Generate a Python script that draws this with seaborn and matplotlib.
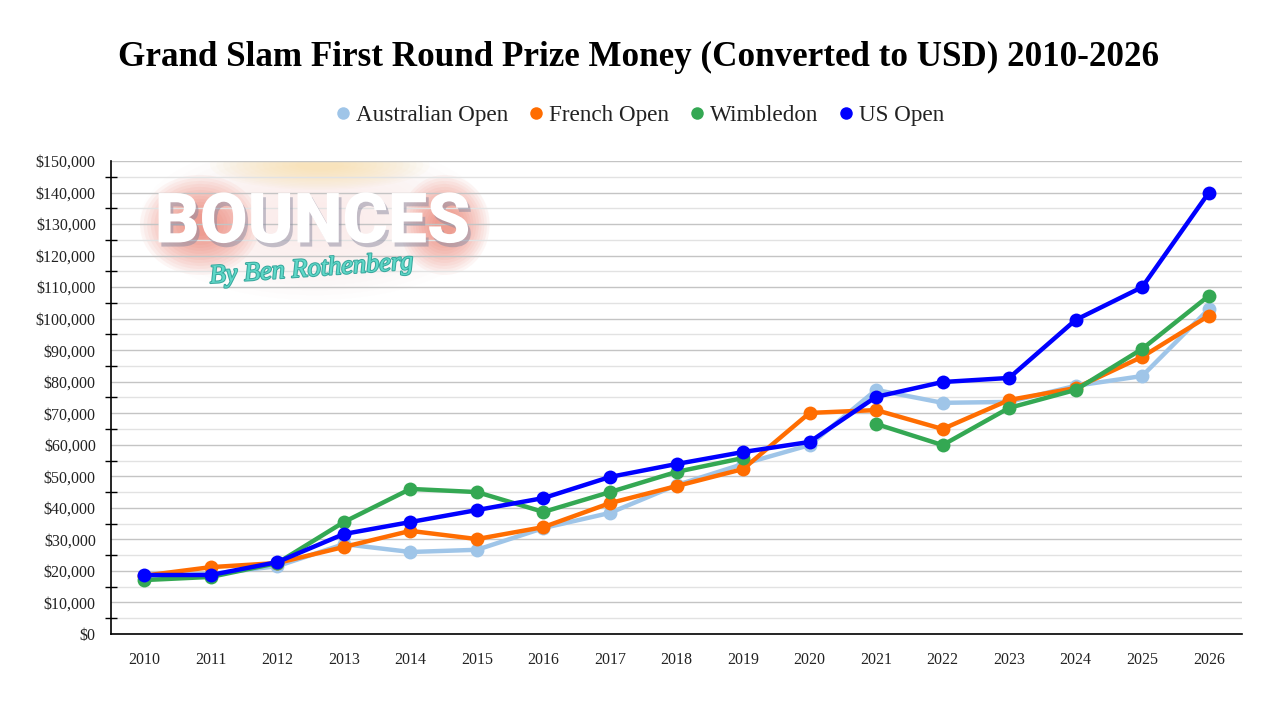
import numpy as np
import pandas as pd
import seaborn as sns
import matplotlib.pyplot as plt
from matplotlib.lines import Line2D
from matplotlib.patches import Ellipse
from matplotlib import patheffects as pe
from matplotlib.ticker import MultipleLocator, FuncFormatter

# chart data
years = list(range(2010, 2027))
australian_open = [18500, 19000, 21500, 28500, 26000, 26700, 33600, 38400, 47200, 53900,
                   59900, 77400, 73300, 73600, 78700, 81800, 103000]
french_open = [18500, 21200, 22500, 27600, 32700, 30100, 33900, 41500, 46900, 52300,
               70100, 71000, 65000, 74200, 78000, 87900, 100900]
wimbledon = [17100, 18100, 22500, 35500, 46000, 45000, 38700, 45000, 51400, 55800,
             np.nan, 66600, 59900, 71700, 77400, 90400, 107200]
us_open = [18700, 18700, 22800, 31700, 35500, 39300, 43100, 49800, 53900, 57700,
           60900, 75200, 79900, 81200, 99600, 110000, 139900]

series = {
    "Australian Open": australian_open,
    "French Open": french_open,
    "Wimbledon": wimbledon,
    "US Open": us_open,
}
palette = {
    "Australian Open": "#9fc5e8",
    "French Open": "#ff6d01",
    "Wimbledon": "#34a853",
    "US Open": "#0000ff",
}

# long table, with a segment id so the 2020 Wimbledon gap stays open
rows = []
for name, vals in series.items():
    seg = 0
    for yr, v in zip(years, vals):
        if np.isnan(v):
            seg += 1
            continue
        rows.append({"year": yr, "prize": v, "event": name, "seg": f"{name}-{seg}"})
df = pd.DataFrame(rows)

sns.set_style("white")
plt.rcParams["font.family"] = ["Liberation Serif", "DejaVu Serif"]

fig = plt.figure(figsize=(12.78, 7.06), dpi=100)
ax = fig.add_axes([0.0869, 0.102, 0.8849, 0.670])


def px(x, y):
    # pixel position -> data coords, only used for the logo watermark
    return 2009.5 + (x - 111) / 66.6, (634 - y) / 3.153 * 1000


# logo watermark behind the lines (soft blobs built from stacked ellipses)
for cx, cy, w, h, c in [(315, 220, 350, 160, "#fbe3e1"),
                        (200, 225, 120, 100, "#e8543e"),
                        (445, 225, 90, 100, "#e8543e"),
                        (320, 165, 220, 50, "#f8dc94")]:
    for k in range(14):
        f = 1 - k * 0.06
        xy = px(cx, cy)
        ax.add_patch(Ellipse(xy, w * f / 66.6, h * f / 3.153 * 1000, color=c,
                             alpha=0.05, lw=0, zorder=0.5))
bx, by = px(313, 224)
ax.text(bx, by, "BOUNCES", ha="center", va="center", fontsize=50,
        fontweight="black", family="Roboto", color="white", zorder=0.6,
        path_effects=[pe.SimplePatchShadow(offset=(2, -3), shadow_rgbFace="#8a8aa0", alpha=0.5),
                      pe.Normal()])
sx, sy = px(312, 270)
ax.text(sx, sy, "By Ben Rothenberg", ha="center", va="center", fontsize=19,
        style="italic", color="#5fd8c8", rotation=4, zorder=0.6,
        path_effects=[pe.withStroke(linewidth=1.5, foreground="#3aa89e")])

sns.lineplot(data=df, x="year", y="prize", hue="event", units="seg", estimator=None,
             palette=palette, hue_order=list(series.keys()), marker="o", markersize=10,
             markeredgewidth=0, linewidth=3.2, legend=False, ax=ax, zorder=3)

ax.set_xlim(2009.5, 2026.5)
ax.set_ylim(0, 150000)
ax.set_xticks(years)
ax.set_xticklabels([str(y) for y in years])
ax.yaxis.set_major_locator(MultipleLocator(10000))
ax.yaxis.set_minor_locator(MultipleLocator(5000))
ax.yaxis.set_major_formatter(FuncFormatter(lambda v, p: f"${v:,.0f}"))
ax.grid(axis="y", which="major", color="#c4c4c4", lw=1)
ax.grid(axis="y", which="minor", color="#e2e2e2", lw=1)
ax.set_axisbelow(True)
ax.set_xlabel("")
ax.set_ylabel("")

for s in ["top", "right"]:
    ax.spines[s].set_visible(False)
for s in ["left", "bottom"]:
    ax.spines[s].set_color("black")
    ax.spines[s].set_linewidth(1.2)

ax.tick_params(axis="x", which="major", direction="inout", length=10, width=1,
               color="black", labelsize=11.5, pad=8, labelcolor="#222222")
ax.tick_params(axis="y", which="major", length=0, labelsize=11.5, pad=11, labelcolor="#222222")
ax.tick_params(axis="y", which="minor", direction="inout", length=8, width=1,
               color="black", left=True)

fig.text(0.5, 0.918, "Grand Slam First Round Prize Money (Converted to USD) 2010-2026",
         ha="center", va="center", fontsize=25.2, fontweight="bold", color="black")

handles = [Line2D([], [], ls="", marker="o", markersize=9, markeredgewidth=0,
                  color=palette[n]) for n in series]
fig.legend(handles, list(series.keys()), loc="center", bbox_to_anchor=(0.5, 0.836),
           ncol=4, frameon=False, fontsize=16.7, handletextpad=0.15, columnspacing=0.8,
           handlelength=0.8, labelcolor="#222222")

fig.savefig("out.png", dpi=100, facecolor="white")
